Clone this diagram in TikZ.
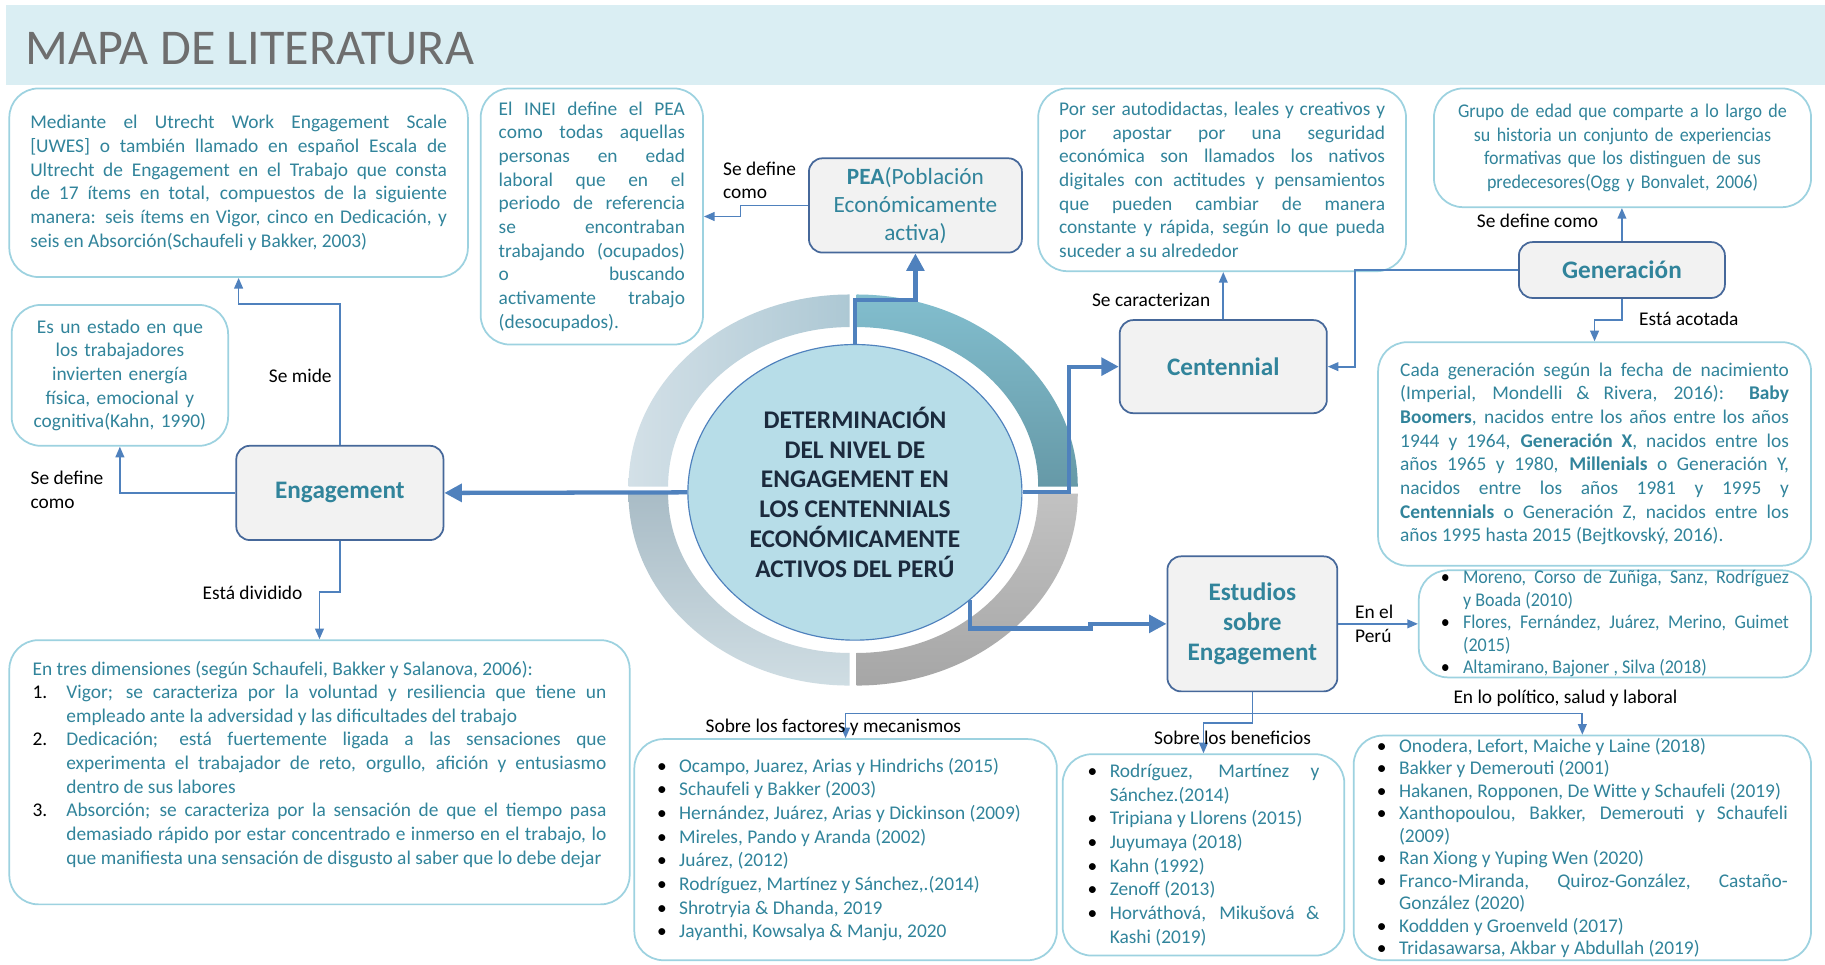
\documentclass[tikz,border=0pt]{standalone}
\usepackage{fontspec}
\setmainfont{Carlito}
\newfontfamily\narrowfont{Carlito}[FakeStretch=0.93]
\usepackage{tikz}
\usetikzlibrary{shapes.geometric}
\usetikzlibrary{arrows.meta}

\definecolor{titlebar}{HTML}{DAEEF3}
\definecolor{titlegray}{HTML}{6E6E6E}
\definecolor{boxline}{HTML}{9DD2E0}
\definecolor{tealtext}{HTML}{31849B}
\definecolor{keyfill}{HTML}{F2F2F2}
\definecolor{keyline}{HTML}{46689A}
\definecolor{linkblue}{HTML}{4F81BD}
\definecolor{corefill}{HTML}{B7DDE8}
\definecolor{coretext}{HTML}{1B2A3D}
\definecolor{ringtla}{HTML}{D3E0E7}
\definecolor{ringtlb}{HTML}{ADC8D4}
\definecolor{ringtra}{HTML}{82BECE}
\definecolor{ringtrb}{HTML}{6699A7}
\definecolor{ringbra}{HTML}{C2C2C2}
\definecolor{ringbrb}{HTML}{A6A6A6}
\definecolor{ringbla}{HTML}{A9BCC6}
\definecolor{ringblb}{HTML}{CFDDE3}

\newcommand{\bodyfont}{\fontsize{10}{12.2}\selectfont}
\newcommand{\litem}[1]{\hangindent=11.4pt\hangafter=1\noindent\makebox[11.4pt][l]{\color{black}\textbullet}#1\par}
\newcommand{\numitem}[2]{\hangindent=17.4pt\hangafter=1\noindent\makebox[17.4pt][l]{\color{black}#1}#2\par}

\begin{document}
\begin{tikzpicture}[x=0.6pt, y=-0.6pt,
	litbox/.style={draw=boxline, line width=0.9pt, rounded corners=15pt, text=tealtext, font=\bodyfont, inner sep=0pt,
		execute at begin node={\hyphenpenalty=10000\tolerance=9999\emergencystretch=20pt\hbadness=10000}},
	keybox/.style={draw=keyline, fill=keyfill, line width=0.9pt, rounded corners=7pt, text=tealtext,
		font=\bfseries\fontsize{13}{15.6}\selectfont, align=center, inner sep=0pt},
	tag/.style={font=\bodyfont, text=black, inner sep=0pt},
	link/.style={draw=linkblue, line width=0.9pt, >={Triangle[length=5.5pt, width=4.5pt]}},
	mainlink/.style={draw=linkblue, line width=2.2pt, >={Triangle[length=9pt, width=9pt]}}]
	\useasboundingbox (0,0) rectangle (1568,829);
	\fill[white] (0,0) rectangle (1568,829);
	\fill[titlebar] (5,4) rectangle (1568,73);
	\node[anchor=west, inner sep=0pt, text=titlegray, font=\fontsize{25.8}{30}\selectfont] (30) at (22,42) {MAPA DE LITERATURA};

	\begin{scope}[shift={(733,421)}, x=0.6pt, y=0.6pt]
		\shade[left color=ringtla, right color=ringtlb, shift={(-3,3)}] (90:190 and 165) arc[start angle=90, end angle=180, x radius=190, y radius=165] -- (180:156 and 137) arc[start angle=180, end angle=90, x radius=156, y radius=137] -- cycle;
		\shade[top color=ringtra, bottom color=ringtrb, shift={(3,3)}] (0:190 and 165) arc[start angle=0, end angle=90, x radius=190, y radius=165] -- (90:156 and 137) arc[start angle=90, end angle=0, x radius=156, y radius=137] -- cycle;
		\shade[top color=ringbra, bottom color=ringbrb, shift={(3,-3)}] (270:190 and 165) arc[start angle=270, end angle=360, x radius=190, y radius=165] -- (0:156 and 137) arc[start angle=360, end angle=270, x radius=156, y radius=137] -- cycle;
		\shade[top color=ringbla, bottom color=ringblb, shift={(-3,-3)}] (180:190 and 165) arc[start angle=180, end angle=270, x radius=190, y radius=165] -- (270:156 and 137) arc[start angle=270, end angle=180, x radius=156, y radius=137] -- cycle;
	\end{scope}

	\node[ellipse, draw=linkblue, line width=0.6pt, fill=corefill, minimum width=172.2pt, minimum height=152.4pt, inner sep=0pt, align=center, text=coretext, font=\bfseries\fontsize{13.1}{15.4}\selectfont] (0) at (734.5,423) {DETERMINACIÓN\\DEL NIVEL DE\\ENGAGEMENT EN\\LOS CENTENNIALS\\ECONÓMICAMENTE\\ACTIVOS DEL PERÚ};

	\node[keybox, font=\fontsize{12}{14.4}\selectfont, minimum width=109.8pt, minimum height=48.6pt] (1) at (786.5,176.5) {\textbf{PEA}(Población\\Económicamente\\activa)};
	\node[litbox, minimum width=114.6pt, minimum height=132pt, text width=96pt, align=justify] (2) at (508.5,186) {El INEI define el PEA como todas aquellas personas en edad laboral que en el periodo de referencia se encontraban trabajando (ocupados) o buscando activamente trabajo (desocupados).};
	\node[keybox, minimum width=106.8pt, minimum height=48.6pt] (3) at (292,423.5) {Engagement};
	\node[litbox, minimum width=236.4pt, minimum height=97.2pt, text width=214.8pt, align=justify] (4) at (205,157) {Mediante el Utrecht Work Engagement Scale\linebreak{} [UWES] o también llamado en español Escala de\linebreak{} Ultrecht de Engagement en el Trabajo que consta\linebreak{} de 17 ítems en total, compuestos de la siguiente\linebreak{} manera: seis ítems en Vigor, cinco en Dedicación, y\linebreak{} seis en Absorción(Schaufeli y Bakker, 2003)};
	\node[litbox, minimum width=111.6pt, minimum height=72.6pt, text width=100pt, align=center] (5) at (103,322.5) {Es un estado en que\\los trabajadores\\invierten energía\\física, emocional y\\cognitiva(Kahn, 1990)};
	\node[litbox, minimum width=319.8pt, minimum height=136.2pt, text width=295.8pt, align=justify] (6) at (274.5,663.5) {En tres dimensiones (según Schaufeli, Bakker y Salanova, 2006):\par
		\numitem{1.}{Vigor; se caracteriza por la voluntad y resiliencia que tiene un empleado ante la adversidad y las dificultades del trabajo}
		\numitem{2.}{Dedicación; está fuertemente ligada a las sensaciones que experimenta el trabajador de reto, orgullo, afición y entusiasmo dentro de sus labores}
		\numitem{3.}{Absorción; se caracteriza por la sensación de que el tiempo pasa demasiado rápido por estar concentrado e inmerso en el trabajo, lo que manifiesta una sensación de disgusto al saber que lo debe dejar\rule[-10pt]{0pt}{0pt}}};

	\node[keybox, minimum width=106.8pt, minimum height=48pt] (7) at (1051,315) {Centennial};
	\node[litbox, minimum width=189.6pt, minimum height=94.2pt, text width=168pt, align=justify] (8) at (1050,154.5) {Por ser autodidactas, leales y creativos y\linebreak{} por apostar por una seguridad\linebreak{} económica son llamados los nativos\linebreak{} digitales con actitudes y pensamientos\linebreak{} que pueden cambiar de manera\linebreak{} constante y rápida, según lo que pueda\linebreak{} suceder a su alrededor};
	\node[keybox, minimum width=106.2pt, minimum height=28.8pt] (9) at (1393.5,232) {Generación};
	\node[litbox, font=\narrowfont\bodyfont, minimum width=194.4pt, minimum height=61.2pt, text width=185pt, align=center] (10) at (1394,127) {Grupo de edad que comparte a lo largo de\\su historia un conjunto de experiencias\\formativas que los distinguen de sus\\predecesores(Ogg y Bonvalet, 2006)};
	\node[litbox, minimum width=223.2pt, minimum height=115.2pt, text width=200.4pt, align=justify] (11) at (1370,390) {Cada generación según la fecha de nacimiento\linebreak{} (Imperial, Mondelli \& Rivera, 2016): \textbf{Baby}\linebreak{} \textbf{Boomers}, nacidos entre los años entre los años\linebreak{} 1944 y 1964, \textbf{Generación X}, nacidos entre los\linebreak{} años 1965 y 1980, \textbf{Millenials} o Generación Y,\linebreak{} nacidos entre los años 1981 y 1995 y\linebreak{} \textbf{Centennials} o Generación Z, nacidos entre los\linebreak{} años 1995 hasta 2015 (Bejtkovský, 2016).};

	\node[keybox, minimum width=87.6pt, minimum height=69.6pt] (12) at (1076,536) {Estudios\\sobre\\Engagement};
	\node[litbox, font=\narrowfont\fontsize{10}{11.6}\selectfont, minimum width=202.2pt, minimum height=55.2pt, text width=179.4pt, align=justify] (13) at (1387.5,536) {\litem{Moreno, Corso de Zuñiga, Sanz, Rodríguez\linebreak{} y Boada (2010)}
		\litem{Flores, Fernández, Juárez, Merino, Guimet (2015)}
		\litem{Altamirano, Bajoner , Silva (2018)}};
	\node[litbox, minimum width=217.8pt, minimum height=114pt, text width=194.4pt, align=justify] (14) at (726.5,730) {\litem{Ocampo, Juarez, Arias y Hindrichs (2015)}
		\litem{Schaufeli y Bakker (2003)}
		\litem{Hernández, Juárez, Arias y Dickinson (2009)}
		\litem{Mireles, Pando y Aranda (2002)}
		\litem{Juárez, (2012)}
		\litem{Rodríguez, Martínez y Sánchez,.(2014)}
		\litem{Shrotryia \& Dhanda, 2019}
		\litem{Jayanthi, Kowsalya \& Manju, 2020}};
	\node[litbox, minimum width=145.2pt, minimum height=103.8pt, text width=119.4pt, align=justify] (15) at (1034,734.5) {\litem{Rodríguez, Martínez y Sánchez.(2014)}
		\litem{Tripiana y Llorens (2015)}
		\litem{Juyumaya (2018)}
		\litem{Kahn (1992)}
		\litem{Zenoff (2013)}
		\litem{Horváthová, Mikušová \& Kashi (2019)}};
	\node[litbox, font=\fontsize{10}{11.6}\selectfont, minimum width=235.8pt, minimum height=115.8pt, text width=211.8pt, align=justify] (16) at (1359.5,728.5) {\litem{Onodera, Lefort, Maiche y Laine (2018)}
		\litem{Bakker y Demerouti (2001)}
		\litem{Hakanen, Ropponen, De Witte y Schaufeli (2019)}
		\litem{Xanthopoulou, Bakker, Demerouti y Schaufeli (2009)}
		\litem{Ran Xiong y Yuping Wen (2020)}
		\litem{Franco-Miranda, Quiroz-González, Castaño-González (2020)}
		\litem{Koddden y Groenveld (2017)}
		\litem{Tridasawarsa, Akbar y Abdullah (2019)}};

	\draw [mainlink, ->] (0.north) -- ++(0,-38) -| (1.south);
	\draw [mainlink, ->] (0.west) -- (3.east);
	\draw [mainlink, ->] (0.east) -- ++(40,0) |- (7.west);
	\draw [mainlink, ->] (0.-43) |- (937,540) |- (12.west);

	\draw [link, ->] (3.north) -- ++(0,-121) -| (4.south);
	\draw [link, ->] (3.west) -| (5.south);
	\draw [link, ->] (3.south) -- ++(0,44) -| (6.north);
	\draw [link, ->] (1.west) -- ++(-58,0) |- (2.east);
	\draw [link, ->] (7.north) -- (7.north |- 8.south);
	\draw [link, ->] (9.west) -- ++(-140,0) |- (7.east);
	\draw [link, ->] (9.north) -- (9.north |- 10.south);
	\draw [link, ->] (9.south) -- ++(0,18) -| (11.north);
	\draw [link, ->] (12.east) -- (13.west);
	\coordinate (40) at (1076,613);
	\draw [link, ->] (12.south) -- (40) -| (14.north);
	\draw [link, ->] (40) -| (16.north);
	\draw [link, ->] (40) -- ++(0,8) -| (15.north);

	\node[tag, anchor=west, align=left] (20) at (621,155) {Se define\\como};
	\node[tag] (21) at (258,323) {Se mide};
	\node[tag, anchor=west, align=left] (22) at (26,421) {Se define\\como};
	\node[tag] (23) at (217,509) {Está dividido};
	\node[tag] (24) at (989,258) {Se caracterizan};
	\node[tag] (25) at (1321,190) {Se define como};
	\node[tag] (26) at (1451,274) {Está acotada};
	\node[tag, anchor=west, align=left] (27) at (1164,536) {En el\\Perú};
	\node[tag] (28) at (716,625) {Sobre los factores y mecanismos};
	\node[tag] (29) at (1059,634) {Sobre los beneficios};
	\node[tag] (31) at (1345,600) {En lo político, salud y laboral};
\end{tikzpicture}
\end{document}
